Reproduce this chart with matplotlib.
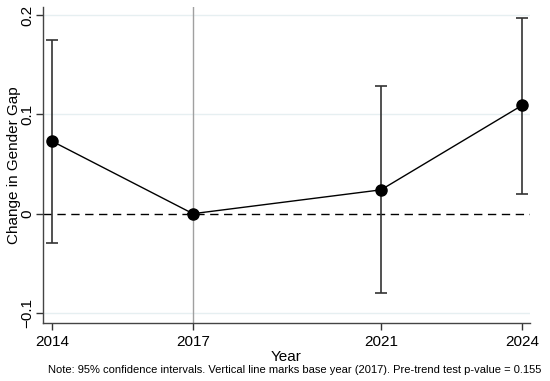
import matplotlib.pyplot as plt

years = [2014, 2017, 2021, 2024]
estimate = [0.073, 0.0, 0.024, 0.109]
ci_low = [-0.029, 0.0, -0.080, 0.020]
ci_high = [0.175, 0.0, 0.129, 0.197]
yticks = [-0.1, 0, 0.1, 0.2]
ytick_labels = ['\u22120.1', '0', '0.1', '0.2']
note = ('Note: 95% confidence intervals. Vertical line marks base year (2017). '
        'Pre-trend test p-value = 0.155')

plt.rcParams['font.family'] = ['Liberation Sans', 'DejaVu Sans']

fig = plt.figure(figsize=(5.5, 3.81), dpi=100)
ax = fig.add_axes([43 / 550, 1 - 323 / 381, (530 - 43) / 550, (323 - 7) / 381])

ax.set_xlim(2013.81, 2024.17)
ax.set_ylim(-0.110, 0.208)

for t in [-0.1, 0.1, 0.2]:
    ax.axhline(t, color='#e6eff1', lw=1, zorder=0)
ax.axvline(2017, color='#a0a0a0', lw=1, zorder=1)
ax.axhline(0, color='black', lw=1, ls=(0, (6, 4)), zorder=2)

err_lo = [e - l for e, l in zip(estimate, ci_low)]
err_hi = [h - e for e, h in zip(estimate, ci_high)]
ax.errorbar(years, estimate, yerr=[err_lo, err_hi], fmt='none',
            ecolor='#333333', elinewidth=1.2, capsize=4, capthick=1.2, zorder=3)
ax.plot(years, estimate, color='black', lw=1, marker='o', markersize=8,
        markerfacecolor='black', zorder=4)

ax.set_xticks(years)
ax.set_yticks(yticks)
ax.set_yticklabels(ytick_labels, rotation=90, va='center')
ax.tick_params(labelsize=11, color='#333333', length=5, width=1)
ax.tick_params(axis='y', pad=1)
for s in ['top', 'right']:
    ax.spines[s].set_visible(False)
for s in ['left', 'bottom']:
    ax.spines[s].set_color('#444444')
    ax.spines[s].set_linewidth(1)

ax.set_xlabel('Year', fontsize=11, labelpad=1)
ax.set_ylabel('Change in Gender Gap', fontsize=11, labelpad=0)

fig.text(0.535, 1 - 370 / 381, note, fontsize=8, ha='center', va='center')

fig.savefig('out.png', dpi=100)
